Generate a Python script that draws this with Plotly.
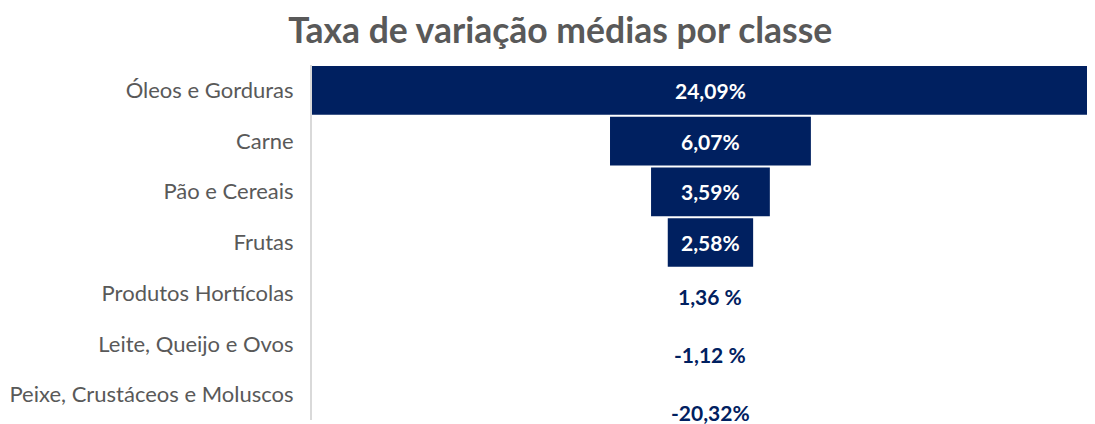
import plotly.graph_objects as go

categories = ["Óleos e Gorduras", "Carne", "Pão e Cereais", "Frutas",
              "Produtos Hortícolas", "Leite, Queijo e Ovos",
              "Peixe, Crustáceos e Moluscos"]
values = [24.09, 6.07, 3.59, 2.58, 1.36, -1.12, -20.32]
labels = ["24,09%", "6,07%", "3,59%", "2,58%", "1,36 %", "-1,12 %", "-20,32%"]
label_shift = [0, 0, 0, 0, -3, -11, -18]

NAVY = "#002060"
GREY = "#595959"
FONT = "Lato, Calibri, sans-serif"

shown = [v >= 2 for v in values]
bar_x = [v if s else 0 for v, s in zip(values, shown)]
bar_base = [-v / 2 if s else 0 for v, s in zip(values, shown)]

fig = go.Figure()
fig.add_trace(go.Bar(
    y=categories, x=bar_x, base=bar_base, orientation="h",
    marker=dict(color=NAVY, line=dict(width=0)),
    width=0.96, hoverinfo="skip", showlegend=False,
))

for cat, lab, s, sh in zip(categories, labels, shown, label_shift):
    fig.add_annotation(
        x=0, y=cat, text=f"<b>{lab}</b>", showarrow=False,
        xref="x", yref="y", yshift=sh,
        font=dict(family=FONT, size=21, color="white" if s else NAVY),
    )

# page body has an 8px margin, so the figure is 8px smaller and offset
fig.update_layout(
    width=1087, height=416,
    margin=dict(l=304, r=0, t=57, b=4),
    paper_bgcolor="white", plot_bgcolor="white",
    title=dict(text="<b>Taxa de variação médias por classe</b>",
               x=0.508, xanchor="center", y=0.945, yanchor="middle",
               font=dict(family=FONT, size=35.5, color=GREY)),
    xaxis=dict(range=[-12.04, 11.62], visible=False, fixedrange=True),
    yaxis=dict(categoryorder="array", categoryarray=categories,
               autorange="reversed", showgrid=False, zeroline=False,
               showline=True, linecolor="#d9d9d9", linewidth=2,
               ticks="", ticklabelstandoff=12, automargin=False,
               tickfont=dict(family=FONT, size=22, color=GREY)),
)

fig.write_html("out.html")
